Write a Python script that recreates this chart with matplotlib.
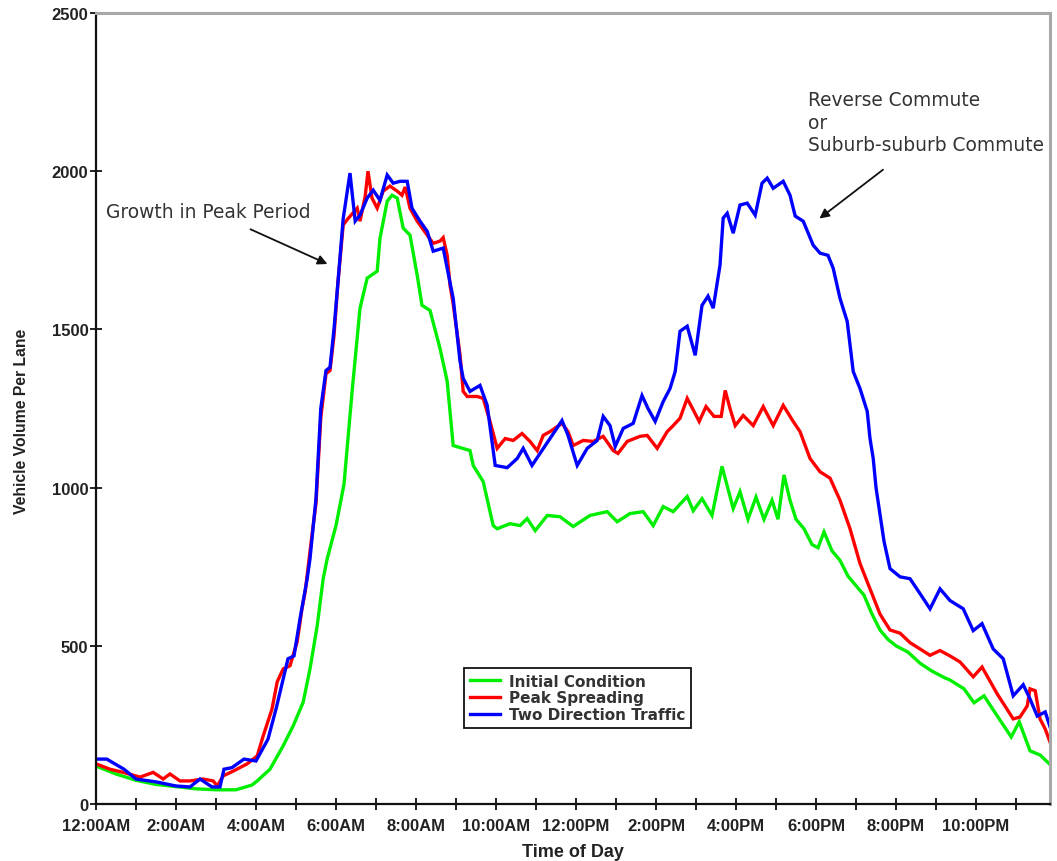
import numpy as np
import matplotlib
matplotlib.use("Agg")
import matplotlib.pyplot as plt

plt.rcParams['font.family'] = ['Liberation Sans', 'DejaVu Sans']

# hours after midnight, vehicles per lane
two_dir_h = [0.0, 0.27, 0.7, 1.0, 1.5, 2.0, 2.35, 2.6, 2.9, 3.1, 3.2, 3.4, 3.7, 4.0, 4.3, 4.5, 4.8, 4.95,
             5.1, 5.28, 5.35, 5.5, 5.62, 5.75, 5.85, 5.95, 6.05, 6.18, 6.35, 6.48, 6.6, 6.78, 6.93, 7.1,
             7.28, 7.43, 7.6, 7.78, 7.9, 8.1, 8.28, 8.43, 8.68, 8.78, 8.93, 9.1, 9.18, 9.35, 9.6, 9.78,
             9.98, 10.28, 10.53, 10.68, 10.9, 11.1, 11.35, 11.65, 11.8, 12.03, 12.28, 12.53, 12.68, 12.85,
             12.98, 13.18, 13.43, 13.65, 13.8, 13.98, 14.18, 14.35, 14.48, 14.6, 14.78, 14.98, 15.15, 15.3,
             15.43, 15.6, 15.68, 15.78, 15.93, 16.1, 16.28, 16.48, 16.65, 16.78, 16.93, 17.18, 17.35, 17.48,
             17.68, 17.93, 18.1, 18.3, 18.43, 18.6, 18.78, 18.93, 19.1, 19.28, 19.35, 19.43, 19.5, 19.7,
             19.85, 20.1, 20.35, 20.6, 20.85, 21.1, 21.35, 21.68, 21.93, 22.15, 22.43, 22.68, 22.93, 23.18,
             23.35, 23.53, 23.73, 23.85]
two_dir_v = [142, 142, 110, 79, 70, 57, 54, 79, 54, 54, 110, 115, 142, 136, 205, 300, 459, 468,
             585, 712, 775, 965, 1250, 1370, 1380, 1500, 1650, 1850, 1994, 1842, 1861, 1915, 1940, 1908,
             1988, 1962, 1968, 1968, 1883, 1842, 1810, 1747, 1757, 1693, 1598, 1400, 1345, 1304, 1323, 1260,
             1070, 1063, 1092, 1124, 1070, 1108, 1155, 1212, 1165, 1070, 1124, 1149, 1225, 1196,
             1130, 1187, 1203, 1291, 1250, 1209, 1272, 1313, 1367, 1494, 1510, 1418, 1576, 1605,
             1567, 1703, 1852, 1867, 1804, 1893, 1899, 1861, 1962, 1978, 1946, 1968, 1924, 1858,
             1842, 1766, 1741, 1734, 1693, 1598, 1525, 1367, 1313, 1241, 1155, 1092, 1000, 830,
             744, 718, 712, 665, 617, 680, 643, 617, 548, 570, 490, 459, 342, 377,
             332, 278, 291, 244]

peak_h = [0.0, 0.35, 0.68, 1.1, 1.43, 1.68, 1.85, 2.1, 2.35, 2.68, 2.93, 3.03, 3.18, 3.43, 3.78, 4.03, 4.18,
          4.4, 4.53, 4.68, 4.85, 5.03, 5.15, 5.23, 5.4, 5.5, 5.62, 5.75, 5.85, 5.95, 6.05, 6.18, 6.3, 6.53,
          6.6, 6.73, 6.8, 6.9, 7.03, 7.18, 7.35, 7.53, 7.65, 7.73, 7.85, 8.03, 8.28, 8.43, 8.6, 8.68, 8.78,
          8.85, 8.93, 9.1, 9.18, 9.28, 9.53, 9.68, 9.85, 10.03, 10.23, 10.43, 10.65, 10.85, 11.03, 11.18,
          11.35, 11.65, 11.8, 11.93, 12.18, 12.43, 12.68, 12.93, 13.05, 13.28, 13.6, 13.78, 14.03, 14.28,
          14.43, 14.6, 14.78, 14.95, 15.08, 15.25, 15.45, 15.63, 15.73, 15.85, 15.98, 16.18, 16.43, 16.68,
          16.93, 17.18, 17.43, 17.6, 17.85, 18.1, 18.35, 18.6, 18.85, 19.1, 19.35, 19.6, 19.85, 20.1,
          20.35, 20.6, 20.85, 21.1, 21.35, 21.6, 21.93, 22.15, 22.53, 22.93, 23.1, 23.28, 23.35, 23.48,
          23.6, 23.73, 23.85]
peak_v = [127, 110, 100, 85, 100, 79, 95, 73, 73, 79, 73, 57, 89, 104, 127, 152, 215,
          300, 386, 427, 437, 513, 617, 671, 850, 950, 1220, 1360, 1370, 1480, 1650, 1830, 1850, 1883,
          1842, 1921, 2000, 1915, 1883, 1937, 1953, 1937, 1924, 1950, 1883, 1842, 1798, 1772, 1779, 1790, 1734,
          1640, 1580, 1420, 1304, 1288, 1288, 1282, 1209, 1124, 1155, 1149, 1171, 1146, 1117, 1165,
          1177, 1203, 1177, 1133, 1149, 1146, 1162, 1117, 1108, 1146, 1162, 1165, 1124, 1177,
          1196, 1219, 1282, 1241, 1209, 1256, 1225, 1225, 1307, 1250, 1196, 1228, 1196, 1256,
          1196, 1260, 1209, 1177, 1092, 1050, 1030, 960, 870, 760, 680, 600, 550, 540,
          510, 490, 470, 485, 468, 449, 402, 433, 348, 269, 275, 310, 364, 358,
          269, 237, 196]

init_h = [0.0, 0.5, 1.0, 1.5, 2.0, 2.5, 3.0, 3.5, 3.9, 4.03, 4.35, 4.68, 4.93, 5.18, 5.35, 5.53, 5.68, 5.78,
          6.0, 6.2, 6.4, 6.55, 6.6, 6.78, 7.03, 7.1, 7.28, 7.4, 7.53, 7.68, 7.85, 8.03, 8.15, 8.35, 8.6,
          8.78, 8.93, 9.35, 9.43, 9.68, 9.93, 10.03, 10.35, 10.6, 10.78, 10.98, 11.28, 11.6, 11.93, 12.35,
          12.78, 13.03, 13.35, 13.68, 13.93, 14.18, 14.43, 14.78, 14.93, 15.15, 15.4, 15.65, 15.93, 16.1,
          16.3, 16.5, 16.7, 16.9, 17.05, 17.2, 17.35, 17.5, 17.7, 17.9, 18.05, 18.2, 18.4, 18.6, 18.8,
          19.0, 19.2, 19.4, 19.6, 19.8, 20.0, 20.3, 20.6, 20.9, 21.2, 21.35, 21.7, 21.95, 22.2, 22.48,
          22.88, 23.08, 23.35, 23.6, 23.85]
init_v = [120, 95, 75, 62, 55, 48, 45, 45, 60, 73, 110, 184, 247, 322, 427, 563, 712, 775,
          880, 1010, 1300, 1500, 1567, 1662, 1684, 1788, 1905, 1924, 1915, 1820, 1798, 1671, 1576, 1560, 1440,
          1336, 1133, 1117, 1070, 1019, 880, 870, 886, 880, 902, 864, 912, 908, 877, 912,
          924, 892, 918, 924, 880, 940, 924, 972, 927, 965, 912, 1067, 934, 987,
          900, 970, 900, 960, 900, 1040, 960, 900, 870, 820, 810, 860, 800, 770, 720,
          690, 660, 600, 550, 520, 500, 480, 445, 420, 400, 392, 364, 320, 342, 288,
          212, 260, 168, 155, 125]

tick_labels = ['12:00AM', '2:00AM', '4:00AM', '6:00AM', '8:00AM', '10:00AM',
               '12:00PM', '2:00PM', '4:00PM', '6:00PM', '8:00PM', '10:00PM']

fig = plt.figure(figsize=(10.57, 8.62), dpi=100)
ax = fig.add_axes([0.0908, 0.0661, 0.9026, 0.9177])

lw = 2.4
ax.plot(init_h, init_v, color='#00ee00', lw=lw, label='Initial Condition', solid_joinstyle='miter')
ax.plot(peak_h, peak_v, color='#ff0000', lw=lw, label='Peak Spreading', solid_joinstyle='miter')
ax.plot(two_dir_h, two_dir_v, color='#0000ff', lw=lw, label='Two Direction Traffic', solid_joinstyle='miter')

ax.set_xlim(0, 23.85)
ax.set_ylim(0, 2500)
ax.set_xticks(np.arange(0, 24, 2))
ax.set_xticklabels(tick_labels)
ax.set_xticks(np.arange(1, 24, 2), minor=True)
ax.set_yticks([0, 500, 1000, 1500, 2000, 2500])

ax.tick_params(axis='both', which='both', direction='inout', length=8, width=1.3,
               labelsize=12, colors='#111111')
ax.tick_params(axis='x', pad=6)
ax.tick_params(axis='y', pad=1.5)
for lab in ax.get_xticklabels() + ax.get_yticklabels():
    lab.set_fontweight('bold')
    lab.set_color('#222222')

for s in ['left', 'bottom']:
    ax.spines[s].set_linewidth(1.6)
    ax.spines[s].set_color('#111111')
for s in ['top', 'right']:
    ax.spines[s].set_linewidth(2.2)
    ax.spines[s].set_color('#a8a8a8')

ax.set_ylabel('Vehicle Volume Per Lane', fontsize=11.3, fontweight='bold', color='#222222')
ax.yaxis.set_label_coords(-0.070, 0.485)
ax.set_xlabel('Time of Day', fontsize=13, fontweight='bold', color='#222222', labelpad=7)

ann_font = dict(family='DejaVu Sans', fontsize=13.4, color='#333333')
ax.annotate('', xy=(5.85, 1703), xytext=(3.8, 1820),
            arrowprops=dict(arrowstyle='-|>', color='#111111', lw=1.3, mutation_scale=14))
ax.text(0.25, 1874, 'Growth in Peak Period', va='center', ha='left', **ann_font)

ax.annotate('', xy=(18.03, 1845), xytext=(19.73, 2010),
            arrowprops=dict(arrowstyle='-|>', color='#111111', lw=1.3, mutation_scale=14))
ax.text(17.8, 2255, 'Reverse Commute\nor\nSuburb-suburb Commute',
        va='top', ha='left', linespacing=1.22, **ann_font)

leg = ax.legend(loc='lower left', bbox_to_anchor=(0.378, 0.087), fancybox=False, framealpha=1,
                edgecolor='#111111', handlelength=2.0, handletextpad=0.6,
                borderpad=0.35, labelspacing=0.12,
                prop=dict(family='DejaVu Sans', weight='bold', size=11))
leg.get_frame().set_linewidth(1.3)
for t in leg.get_texts():
    t.set_color('#333333')

fig.savefig('out.png', dpi=100)
